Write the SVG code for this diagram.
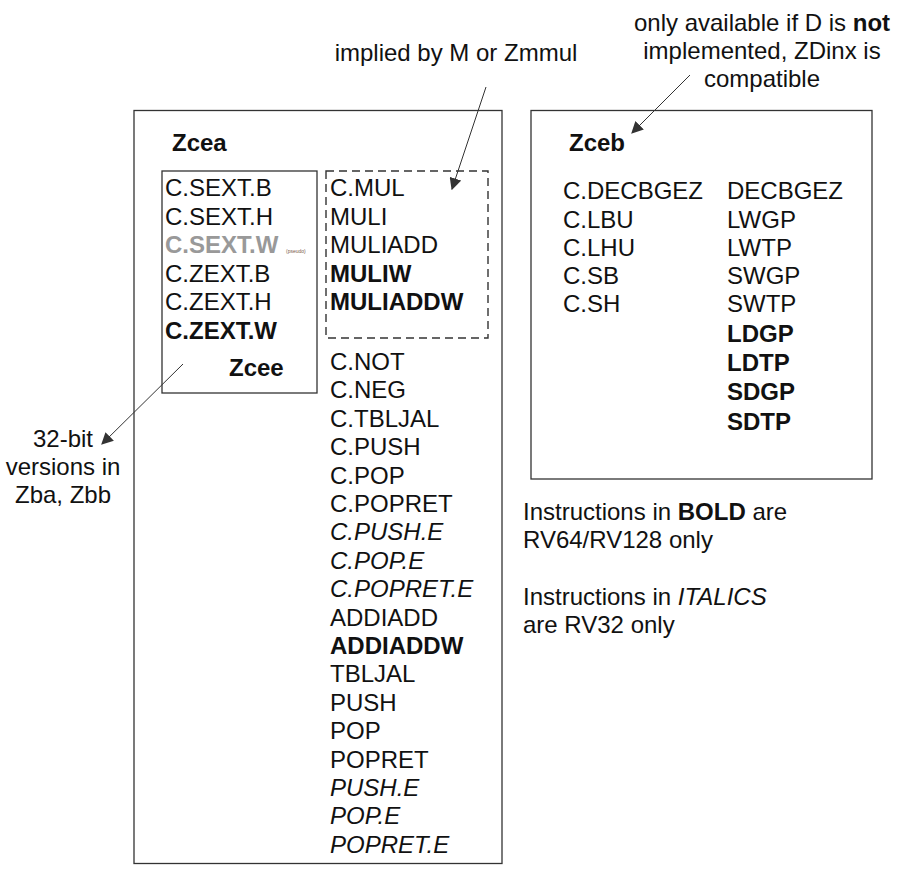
<svg xmlns="http://www.w3.org/2000/svg" width="904" height="879" viewBox="0 0 904 879">
<defs>
<style>
text{font-family:"Liberation Sans",Arial,sans-serif;font-size:24px;fill:#111}
.b{font-weight:bold}
.i{font-style:italic}
.g{fill:#999}
.box{fill:none;stroke:#333;stroke-width:1.3}
.dash{fill:none;stroke:#333;stroke-width:1.4;stroke-dasharray:8,5}
.c{text-anchor:middle}
.conn{stroke:#333;stroke-width:1;fill:none;marker-end:url(#ah)}
</style>
<marker id="ah" viewBox="0 0 10 10" refX="9" refY="5" markerWidth="12" markerHeight="12" markerUnits="userSpaceOnUse" orient="auto">
<path d="M0,0 L10,5 L0,10 Z" fill="#333"/>
</marker>
</defs>
<rect width="904" height="879" fill="#fff"/>
<g id="zcea">
<rect class="box" x="134" y="110.5" width="368" height="753"/>
<text class="b" x="172" y="151">Zcea</text>
<g id="zcee">
<rect class="box" x="162" y="171" width="155" height="222"/>
<text x="165" y="196">C.SEXT.B</text>
<text x="165" y="224.5">C.SEXT.H</text>
<text class="b g" x="165" y="253">C.SEXT.W</text>
<text x="286" y="253" style="font-size:5px;fill:#7a5a48">(pseudo)</text>
<text x="165" y="281.5">C.ZEXT.B</text>
<text x="165" y="310">C.ZEXT.H</text>
<text class="b" x="165" y="339">C.ZEXT.W</text>
<text class="b" x="229" y="376">Zcee</text>
</g>
<g id="mul">
<rect class="dash" x="326" y="171" width="162" height="167"/>
<text x="330" y="196">C.MUL</text>
<text x="330" y="224.5">MULI</text>
<text x="330" y="253">MULIADD</text>
<text class="b" x="330" y="281.5">MULIW</text>
<text class="b" x="330" y="310">MULIADDW</text>
</g>
<g id="zcea-list">
<text x="330" y="370">C.NOT</text>
<text x="330" y="398.4">C.NEG</text>
<text x="330" y="426.8">C.TBLJAL</text>
<text x="330" y="455.2">C.PUSH</text>
<text x="330" y="483.6">C.POP</text>
<text x="330" y="512">C.POPRET</text>
<text class="i" x="330" y="540.4">C.PUSH.E</text>
<text class="i" x="330" y="568.8">C.POP.E</text>
<text class="i" x="330" y="597.2">C.POPRET.E</text>
<text x="330" y="625.6">ADDIADD</text>
<text class="b" x="330" y="654">ADDIADDW</text>
<text x="330" y="682.4">TBLJAL</text>
<text x="330" y="710.8">PUSH</text>
<text x="330" y="739.2">POP</text>
<text x="330" y="767.6">POPRET</text>
<text class="i" x="330" y="796">PUSH.E</text>
<text class="i" x="330" y="824.4">POP.E</text>
<text class="i" x="330" y="852.8">POPRET.E</text>
</g>
</g>
<g id="zceb">
<rect class="box" x="531" y="110.5" width="341" height="368.5"/>
<text class="b" x="569" y="151">Zceb</text>
<text x="563" y="199.3">C.DECBGEZ</text>
<text x="563" y="227.7">C.LBU</text>
<text x="563" y="256">C.LHU</text>
<text x="563" y="284">C.SB</text>
<text x="563" y="311.7">C.SH</text>
<text x="727" y="199.3">DECBGEZ</text>
<text x="727" y="227.7">LWGP</text>
<text x="727" y="256">LWTP</text>
<text x="727" y="284">SWGP</text>
<text x="727" y="311.7">SWTP</text>
<text class="b" x="727" y="341.7">LDGP</text>
<text class="b" x="727" y="370.7">LDTP</text>
<text class="b" x="727" y="400">SDGP</text>
<text class="b" x="727" y="430">SDTP</text>
</g>
<g id="note-mul">
<text class="c" x="456" y="61">implied by M or Zmmul</text>
</g>
<g id="note-d">
<text class="c" x="762" y="31">only available if D is <tspan class="b">not</tspan></text>
<text class="c" x="762" y="59">implemented, ZDinx is</text>
<text class="c" x="762" y="87">compatible</text>
</g>
<g id="note-32">
<text class="c" x="63" y="447">32-bit</text>
<text class="c" x="63" y="475">versions in</text>
<text class="c" x="63" y="503">Zba, Zbb</text>
</g>
<g id="legend">
<text x="523" y="520">Instructions in <tspan class="b">BOLD</tspan> are</text>
<text x="523" y="548">RV64/RV128 only</text>
<text x="523" y="605">Instructions in <tspan class="i">ITALICS</tspan></text>
<text x="523" y="633">are RV32 only</text>
</g>
<g id="connectors">
<line class="conn" x1="486" y1="87" x2="452" y2="189"/>
<line class="conn" x1="690" y1="75" x2="632" y2="133"/>
<line class="conn" x1="183" y1="364" x2="102" y2="444"/>
</g>
</svg>
